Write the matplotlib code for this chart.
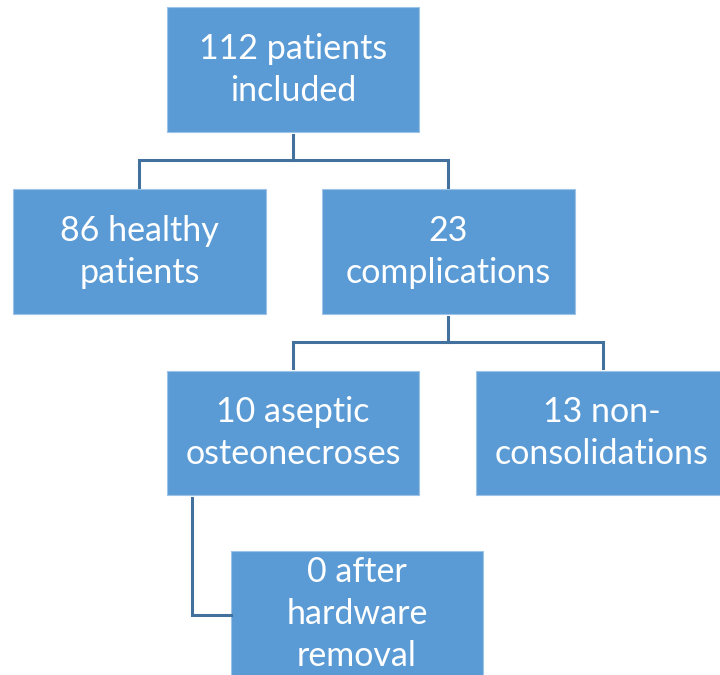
import matplotlib.pyplot as plt
from matplotlib.patches import Rectangle

# box labels and their boxes (left, top, right, bottom) in pixels
labels = ["112 patients\nincluded", "86 healthy\npatients", "23\ncomplications",
          "10 aseptic\nosteonecroses", "13 non-\nconsolidations",
          "0 after\nhardware\nremoval"]
boxes = [(167, 7, 419, 132), (13, 189, 266, 314), (322, 189, 575, 314),
         (167, 371, 419, 495), (476, 371, 727, 495), (231, 551, 483, 690)]
text_y = [70, 252, 252, 433, 433, 614]

# connector polylines
links = [
    [(293, 135), (293, 160)],
    [(139, 187), (139, 160), (448, 160), (448, 187)],
    [(448, 317), (448, 342)],
    [(293, 368), (293, 342), (603, 342), (603, 368)],
    [(192, 498), (192, 615), (231, 615)],
]

fill = "#5B9BD5"
edge = "#41719C"

fig = plt.figure(figsize=(7.2, 6.75), dpi=100)
ax = fig.add_axes([0, 0, 1, 1])
ax.set_xlim(0, 720)
ax.set_ylim(675, 0)
ax.axis("off")

for (l, t, r, b), lab, ty in zip(boxes, labels, text_y):
    ax.add_patch(Rectangle((l, t), r - l, b - t, facecolor=fill,
                           edgecolor="#9DC3E6", linewidth=0.8))
    ax.text((l + r) / 2, ty, lab, ha="center", va="center", color="white",
            fontsize=24.5, family="Lato", linespacing=1.37)

for pts in links:
    xs, ys = zip(*pts)
    ax.plot(xs, ys, color=edge, linewidth=2.2, solid_joinstyle="miter")

fig.savefig("out.png", dpi=100)
